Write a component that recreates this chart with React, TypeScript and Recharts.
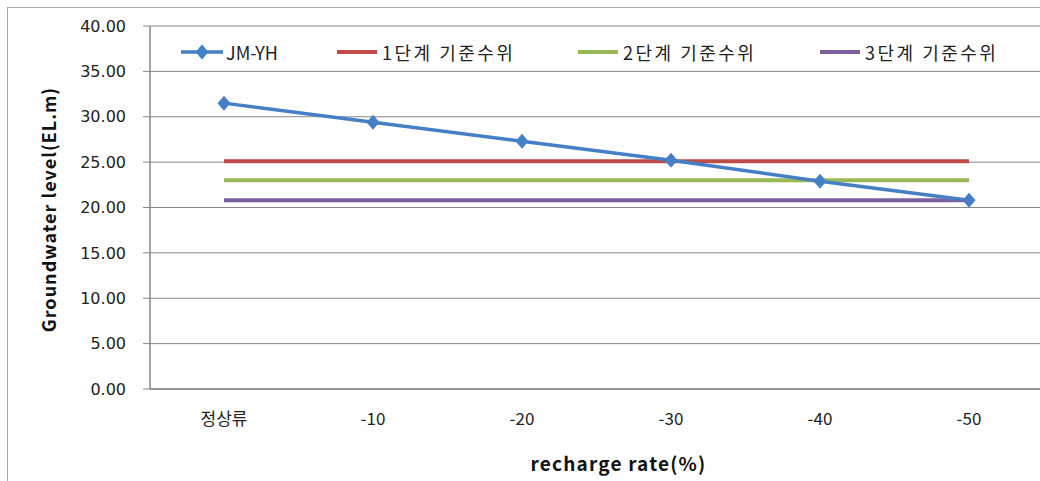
import React from "react";
import { LineChart, Line, XAxis, YAxis, CartesianGrid, Legend } from "recharts";

// 값은 그림에서 읽은 근사치
const categories = ["정상류", "-10", "-20", "-30", "-40", "-50"];
const jmyh = [31.5, 29.4, 27.3, 25.2, 22.9, 20.8];
const stage1 = [25.1, 25.1, 25.1, 25.1, 25.1, 25.1];
const stage2 = [23.0, 23.0, 23.0, 23.0, 23.0, 23.0];
const stage3 = [20.8, 20.8, 20.8, 20.8, 20.8, 20.8];
const yTicks = [0, 5, 10, 15, 20, 25, 30, 35, 40];
const seriesNames = ["JM-YH", "1단계 기준수위", "2단계 기준수위", "3단계 기준수위"];
const seriesColors = ["#457FC6", "#BE4B48", "#98B954", "#7D60A0"];

const data = categories.map((cat, i) => ({
  cat,
  jmyh: jmyh[i],
  stage1: stage1[i],
  stage2: stage2[i],
  stage3: stage3[i],
}));

const KR_FONT = "'Noto Sans CJK KR', 'Noto Sans', sans-serif";
const GRID = "#868686";
const legendWidths = [156, 241, 242, 200];

function Diamond(props: any) {
  const { cx, cy, fill } = props;
  if (cx == null || cy == null) return null;
  return <path d={`M${cx},${cy - 7.5} L${cx + 6.5},${cy} L${cx},${cy + 7.5} L${cx - 6.5},${cy} Z`} fill={fill} />;
}

function renderLegend(props: any) {
  const payload = [...(props.payload || [])].sort(
    (a: any, b: any) => seriesNames.indexOf(a.value) - seriesNames.indexOf(b.value)
  );
  return (
    <div style={{ display: "flex", alignItems: "center", fontFamily: KR_FONT, fontSize: 18, color: "#222" }}>
      {payload.map((p: any, i: number) => {
        const first = i === 0;
        const w = first ? 42 : 40;
        return (
          <div key={p.value} style={{ width: legendWidths[i], display: "flex", alignItems: "center", flex: "none" }}>
            <svg width={w} height={16} style={{ marginRight: first ? 3 : 5 }}>
              <line x1={0} y1={8} x2={w} y2={8} stroke={p.color} strokeWidth={first ? 3.5 : 4} />
              {first && <Diamond cx={w / 2} cy={8} fill={p.color} />}
            </svg>
            <span style={{ whiteSpace: "nowrap", lineHeight: "26px", letterSpacing: first ? 0 : 2.5 }}>{p.value}</span>
          </div>
        );
      })}
    </div>
  );
}

function YTitle(props: any) {
  const { viewBox } = props;
  const x = viewBox.x + 48;
  const y = viewBox.y + viewBox.height / 2 + 2;
  return (
    <text
      x={x}
      y={y}
      transform={`rotate(-90 ${x} ${y})`}
      textAnchor="middle"
      dominantBaseline="central"
      fontFamily={KR_FONT}
      fontWeight={700}
      fontSize={18}
      letterSpacing={1}
      fill="#111"
    >
      Groundwater level(EL.m)
    </text>
  );
}

function XTitle(props: any) {
  const { viewBox } = props;
  return (
    <text
      x={viewBox.x + viewBox.width / 2 + 22}
      y={viewBox.y + 73}
      textAnchor="middle"
      dominantBaseline="central"
      fontFamily={KR_FONT}
      fontWeight={700}
      fontSize={19}
      letterSpacing={1.2}
      fill="#111"
    >
      recharge rate(%)
    </text>
  );
}

export default function App() {
  return (
    <div style={{ position: "absolute", left: 0, top: 0, width: 1040, height: 481, overflow: "hidden", background: "#fff" }}>
      <div style={{ position: "absolute", left: 7, top: 7, width: 1100, height: 520, border: "1px solid #A6A6A6" }} />
      <div style={{ position: "absolute", left: 0, top: 0 }}>
        <LineChart width={1060} height={481} data={data} margin={{ top: 26, right: 17, bottom: 32, left: 0 }}>
          <CartesianGrid vertical={false} stroke={GRID} strokeWidth={1} />
          <XAxis
            dataKey="cat"
            interval={0}
            padding={{ left: 74, right: 74 }}
            tickLine={false}
            axisLine={{ stroke: GRID, strokeWidth: 1.5 }}
            tickMargin={18}
            height={60}
            tick={{ fontFamily: KR_FONT, fontSize: 17, fill: "#222" }}
            label={<XTitle />}
          />
          <YAxis
            width={150}
            domain={[0, 40]}
            ticks={yTicks}
            interval={0}
            tickFormatter={(v: number) => v.toFixed(2)}
            tickSize={7}
            tickMargin={17}
            tickLine={{ stroke: GRID }}
            axisLine={{ stroke: GRID, strokeWidth: 1.5 }}
            tick={{ fontFamily: "'DejaVu Sans', Verdana, sans-serif", fontSize: 16, fill: "#222" }}
            label={<YTitle />}
          />
          <Legend
            layout="horizontal"
            verticalAlign="middle"
            align="center"
            content={renderLegend}
            wrapperStyle={{ left: 181, top: 39, width: "auto" }}
          />
          <Line
            name={seriesNames[1]}
            dataKey="stage1"
            type="linear"
            stroke={seriesColors[1]}
            strokeWidth={4}
            dot={false}
            activeDot={false}
            isAnimationActive={false}
          />
          <Line
            name={seriesNames[2]}
            dataKey="stage2"
            type="linear"
            stroke={seriesColors[2]}
            strokeWidth={4}
            dot={false}
            activeDot={false}
            isAnimationActive={false}
          />
          <Line
            name={seriesNames[3]}
            dataKey="stage3"
            type="linear"
            stroke={seriesColors[3]}
            strokeWidth={4}
            dot={false}
            activeDot={false}
            isAnimationActive={false}
          />
          <Line
            name={seriesNames[0]}
            dataKey="jmyh"
            type="linear"
            stroke={seriesColors[0]}
            strokeWidth={3.5}
            dot={(p: any) => <Diamond key={p.index} cx={p.cx} cy={p.cy} fill={seriesColors[0]} />}
            activeDot={false}
            isAnimationActive={false}
          />
        </LineChart>
      </div>
    </div>
  );
}
